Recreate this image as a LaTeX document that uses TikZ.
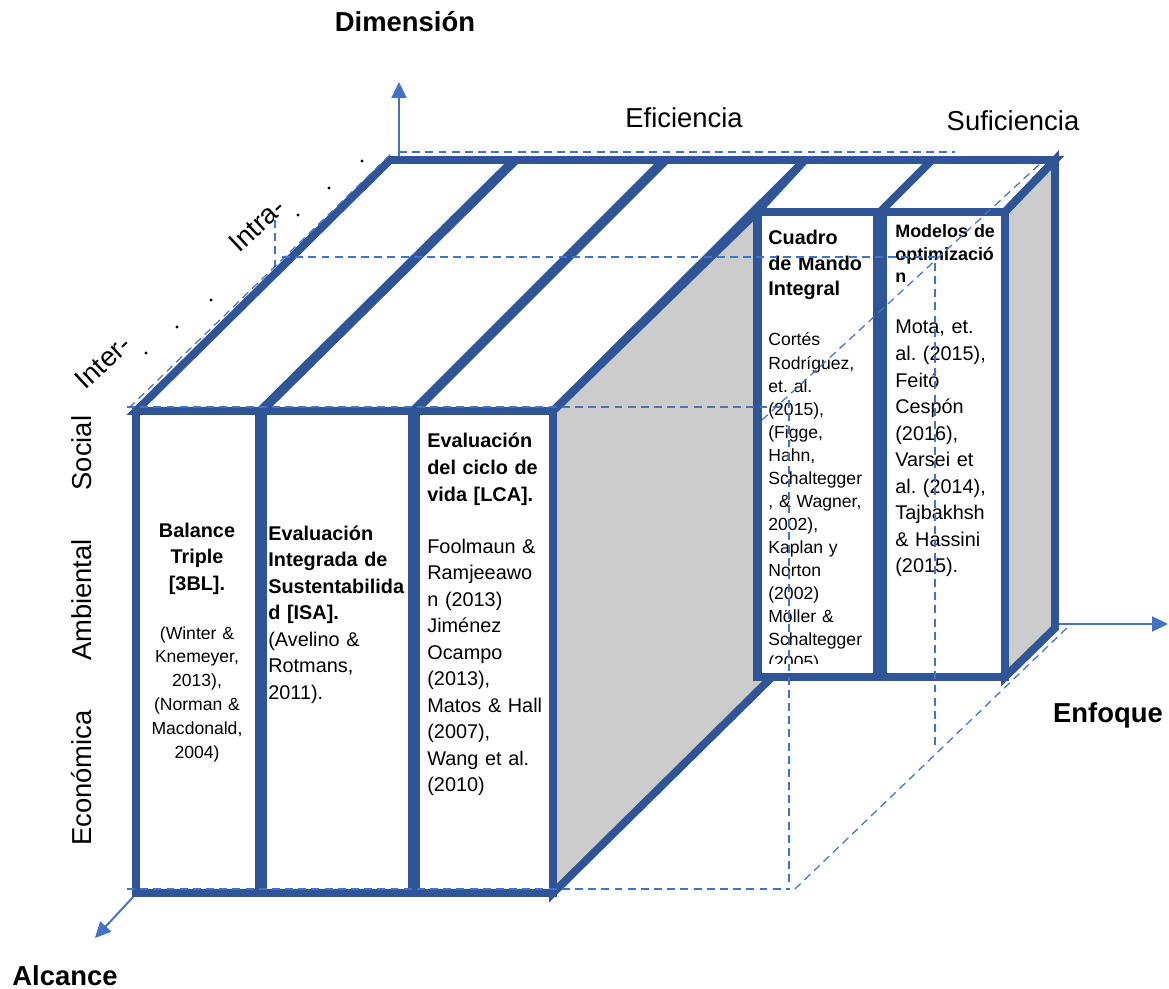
\documentclass[tikz,border=0pt]{standalone}
\usepackage{fontspec}
\setmainfont{Liberation Sans}
\usetikzlibrary{arrows.meta}

\definecolor{bookblue}{HTML}{2F5597}
\definecolor{axisblue}{HTML}{4472C4}
\definecolor{sidegray}{HTML}{CCCCCC}

\newcommand{\axisfont}{\fontsize{15.6}{18}\selectfont}
\newcommand{\reffont}{\fontsize{11.3}{15.1}\selectfont}
\newcommand{\smallref}{\fontsize{10}{13.6}\selectfont}
\frenchspacing

\tikzset{
  book/.style={draw=bookblue, line width=4.5pt, line join=miter},
  guide/.style={draw=axisblue, line width=0.7pt, dash pattern=on 4.5pt off 3pt},
  axis/.style={draw=axisblue, line width=1.1pt, -{Triangle[length=9pt,width=8.5pt]}},
  txt/.style={inner sep=0pt, anchor=base west, align=left, text width=#1},
}

\begin{document}
\begin{tikzpicture}[x=0.02cm, y=-0.02cm]
  \useasboundingbox (0,0) rectangle (1169,989);

  % axes
  \coordinate (dimfoot) at (399,160);
  \coordinate (dimtip) at (399,82);
  \coordinate (enffoot) at (1057,624);
  \coordinate (enftip) at (1168,624);
  \coordinate (alcfoot) at (134,896);
  \coordinate (alctip) at (95,938);
  \draw[axis] (dimfoot) -- (dimtip);
  \draw[axis] (enffoot) -- (enftip);
  \draw[axis] (alcfoot) -- (alctip);

  % front group: top, side, front
  \draw[book, fill=white] (136,411) -- (390,160) -- (805,160) -- (553,411) -- cycle;
  \draw[book, line width=5.5pt] (261,411) -- (515,160) (414,411) -- (665,160);
  \draw[book, fill=sidegray] (553,411) -- (757,212) -- (757,677) -- (772,677) -- (553,893) -- cycle;
  \draw[book, fill=white] (136,411) rectangle (553,893);
  \draw[book, line width=6.8pt] (261,411) -- (261,893) (414,411) -- (414,893);

  % right group: top, side, front
  \draw[book, fill=white] (757,212) -- (805,160) -- (1055,160) -- (1005,212) -- cycle;
  \draw[book] (880,212) -- (932,160);
  \draw[book, fill=sidegray] (1005,212) -- (1055,160) -- (1055,628) -- (1005,677) -- cycle;
  \draw[book, fill=white] (758,212) rectangle (1005,677);
  \draw[book, line width=7.5pt] (880,212) -- (880,677);

  % book texts
  \node[txt=68pt, anchor=base, align=center, font=\reffont\bfseries] (tbl) at (197,537)
    {Balance\\Triple\\{}[3BL].};
  \node[txt=68pt, anchor=base, align=center, font=\smallref] (tblref) at (197,639)
    {(Winter \&\\Knemeyer,\\2013),\\(Norman \&\\Macdonald,\\2004)};
  \node[txt=85pt, font=\reffont] (isa) at (268,540)
    {\textbf{Evaluación}\\\textbf{Integrada de}\\\textbf{Sustentabilida}\\\textbf{d [ISA].}\\(Avelino \&\\Rotmans,\\2011).};
  \node[txt=77pt, font=\reffont\bfseries] (lca) at (427,448)
    {Evaluación\\del ciclo de\\vida [LCA].};
  \node[txt=77pt, font=\reffont] (lcaref) at (427,553)
    {Foolmaun \&\\Ramjeeawo\\n (2013)\\Jiménez\\Ocampo\\(2013),\\Matos \& Hall\\(2007),\\Wang et al.\\(2010)};
  \node[txt=65pt, font=\fontsize{11.3}{14.5}\selectfont\bfseries] (cmi) at (768,245)
    {Cuadro\\de Mando\\Integral};
  \begin{scope}
    \clip (762,216) rectangle (873,663);
    \node[txt=65pt, font=\fontsize{10}{13.1}\selectfont] (cmiref) at (768,346)
      {Cortés\\Rodríguez,\\et. al.\\(2015),\\(Figge,\\Hahn,\\Schaltegger\\, \& Wagner,\\2002),\\Kaplan y\\Norton\\(2002)\\Möller \&\\Schaltegger\\(2005)};
  \end{scope}
  \node[txt=65pt, font=\fontsize{10.2}{12.8}\selectfont\bfseries] (opt) at (895,238)
    {Modelos de\\optimizació\\n};
  \node[txt=65pt, font=\reffont] (optref) at (895,334)
    {Mota, et.\\al. (2015),\\Feitó\\Cespón\\(2016),\\Varsei et\\al. (2014),\\Tajbakhsh\\\& Hassini\\(2015).};

  % guide frame
  \draw[guide] (399,152) -- (955,152);
  \draw[guide] (129,408) -- (392,153);
  \draw[guide] (127,407) -- (782,407);
  \draw[guide] (789,400) -- (789,890);
  \draw[guide] (127,889) -- (789,889);
  \draw[guide] (795,889) -- (1070,625);
  \draw[guide] (762,420) -- (1042,162);
  \draw[guide] (282,257) -- (935,257) -- (935,747);
  \draw[guide] (275,220) -- (275,268);

  % dots along the depth axis
  \foreach \x/\y in {146/353,177/327,211/300,298/215,329/188,362/161}
    \fill (\x,\y) circle (0.9pt);

  % labels
  \node[anchor=base, inner sep=0pt, font=\axisfont\bfseries] (dim) at (405,32) {Dimensión};
  \node[anchor=base, inner sep=0pt, font=\axisfont\bfseries] (enf) at (1108,722) {Enfoque};
  \node[anchor=base, inner sep=0pt, font=\axisfont\bfseries] (alc) at (65,985) {Alcance};
  \node[anchor=base, inner sep=0pt, font=\axisfont] (efi) at (684,128) {Eficiencia};
  \node[anchor=base, inner sep=0pt, font=\axisfont] (suf) at (1013,131) {Suficiencia};
  \node[rotate=90, inner sep=0pt, font=\axisfont] (soc) at (82,453) {Social};
  \node[rotate=90, inner sep=0pt, font=\axisfont] (amb) at (82,600) {Ambiental};
  \node[rotate=90, inner sep=0pt, font=\axisfont] (eco) at (82,778) {Económica};
  \node[rotate=43, inner sep=0pt, font=\axisfont] (inter) at (103,362) {Inter-};
  \node[rotate=43, inner sep=0pt, font=\axisfont] (intra) at (257,225) {Intra-};
\end{tikzpicture}
\end{document}
